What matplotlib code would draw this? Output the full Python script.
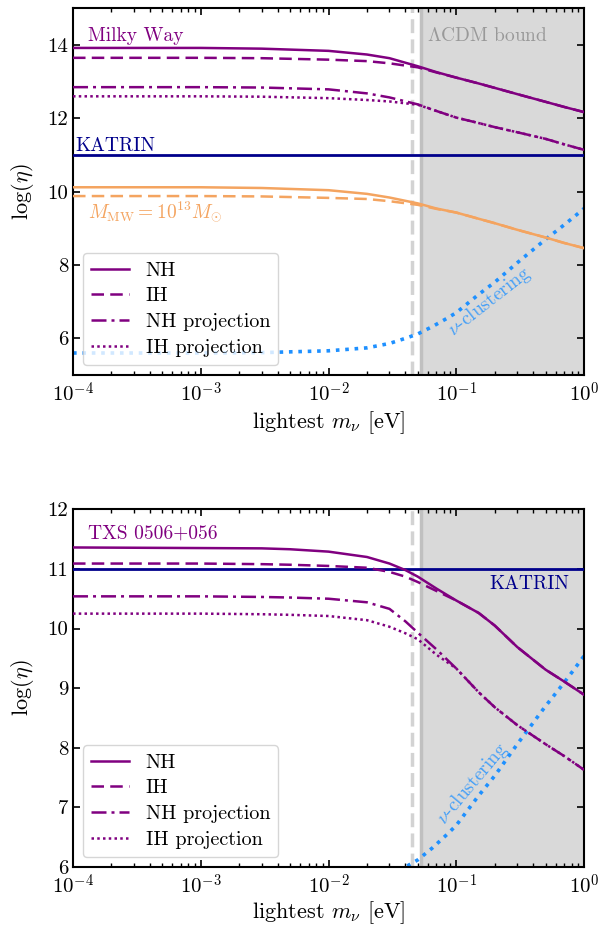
import numpy as np
import matplotlib.pyplot as plt
import matplotlib.ticker as ticker

plt.rcParams.update({
    'font.family': 'serif',
    'font.serif': ['cmr10', 'DejaVu Serif'],
    'mathtext.fontset': 'cm',
    'axes.unicode_minus': False,
    'axes.linewidth': 1.5,
    'xtick.direction': 'in',
    'ytick.direction': 'in',
    'xtick.top': True,
    'ytick.right': True,
    'xtick.major.size': 5,
    'ytick.major.size': 5,
    'xtick.minor.size': 3,
    'xtick.major.width': 1.2,
    'ytick.major.width': 1.2,
    'xtick.minor.width': 1.0,
    'xtick.labelsize': 15,
    'ytick.labelsize': 15,
    'axes.labelsize': 16,
    'legend.fontsize': 14.5,
})

# ---------------- data ----------------
# Milky Way panel
m_top = [1e-4, 1e-3, 3e-3, 0.01, 0.02, 0.03, 0.05, 0.07, 0.1, 0.15, 0.2, 0.3, 0.5, 0.7, 1.0]
nh_mw = [13.92, 13.92, 13.90, 13.84, 13.74, 13.64, 13.42, 13.26, 13.11, 12.95, 12.83, 12.66, 12.45, 12.31, 12.17]
ih_mw = [13.65, 13.65, 13.64, 13.60, 13.56, 13.50, 13.39, 13.25, 13.11, 12.95, 12.83, 12.66, 12.45, 12.31, 12.17]
nhp_mw = [12.85, 12.85, 12.84, 12.79, 12.68, 12.57, 12.38, 12.20, 12.02, 11.87, 11.76, 11.62, 11.44, 11.29, 11.14]
ihp_mw = [12.60, 12.60, 12.59, 12.55, 12.50, 12.46, 12.37, 12.20, 12.02, 11.87, 11.76, 11.62, 11.44, 11.29, 11.14]
nh_1e13 = [10.12, 10.12, 10.10, 10.04, 9.94, 9.84, 9.68, 9.54, 9.43, 9.26, 9.14, 8.96, 8.75, 8.60, 8.46]
ih_1e13 = [9.88, 9.88, 9.87, 9.83, 9.80, 9.74, 9.64, 9.53, 9.43, 9.26, 9.14, 8.96, 8.75, 8.60, 8.46]

# TXS 0506+056 panel
m_bot = [1e-4, 1e-3, 3e-3, 0.005, 0.01, 0.02, 0.03, 0.04, 0.05, 0.07, 0.1, 0.15, 0.2, 0.3, 0.5, 0.7, 1.0]
nh_txs = [11.36, 11.35, 11.345, 11.33, 11.29, 11.20, 11.09, 10.98, 10.87, 10.67, 10.47, 10.26, 10.05, 9.69, 9.31, 9.11, 8.89]
ih_txs = [11.09, 11.09, 11.08, 11.07, 11.05, 11.02, 10.95, 10.87, 10.78, 10.63, 10.47, 10.26, 10.05, 9.69, 9.31, 9.11, 8.89]
nhp_txs = [10.54, 10.54, 10.53, 10.52, 10.50, 10.44, 10.33, 10.12, 9.93, 9.65, 9.33, 8.93, 8.68, 8.38, 8.06, 7.86, 7.63]
ihp_txs = [10.25, 10.25, 10.24, 10.23, 10.21, 10.14, 10.03, 9.92, 9.82, 9.56, 9.33, 8.93, 8.68, 8.38, 8.06, 7.86, 7.63]

# neutrino clustering (same curve in both panels)
m_clust = [1e-4, 1e-3, 3e-3, 0.01, 0.02, 0.03, 0.04, 0.05, 0.065, 0.085, 0.1, 0.15, 0.2, 0.3, 0.4, 0.5, 0.63, 0.8, 1.0]
eta_clust = [5.60, 5.60, 5.61, 5.66, 5.74, 5.86, 6.00, 6.12, 6.32, 6.55, 6.70, 7.20, 7.53, 8.06, 8.42, 8.70, 8.97, 9.26, 9.54]

katrin = 11.0
lcdm_bound = 0.0528
lcdm_dashed = 0.0448

purple = '#800080'
orange = '#f4a460'
navy = '#00008b'
blue = '#1e90ff'

fig = plt.figure(figsize=(6, 9.25), dpi=100)
ax1 = fig.add_axes([0.1217, 0.5946, 0.8517, 0.3964])
ax2 = fig.add_axes([0.1217, 0.0627, 0.8517, 0.3867])


def common(ax, ylim, yticks, xpad):
    ax.axvspan(lcdm_bound, 1.0, color='#d9d9d9', lw=0, zorder=0)
    ax.axvline(lcdm_bound, color='#c0c0c0', lw=2.5, zorder=1)
    ax.axvline(lcdm_dashed, color='#d3d3d3', lw=2.5, ls=(0, (4, 1.8)), zorder=1)
    ax.axhline(katrin, color=navy, lw=2, zorder=3)
    ax.plot(m_clust, eta_clust, color=blue, lw=2.6, ls=(0, (1, 1.6)), zorder=2)
    ax.set_xscale('log')
    ax.set_xlim(1e-4, 1)
    ax.set_ylim(*ylim)
    ax.set_yticks(yticks)
    ax.xaxis.set_major_formatter(ticker.FuncFormatter(lambda v, p: r'$10^{%d}$' % round(np.log10(v))))
    ax.xaxis.set_minor_locator(ticker.LogLocator(base=10, subs=np.arange(2, 10), numticks=20))
    ax.xaxis.set_minor_formatter(ticker.NullFormatter())
    ax.tick_params(axis='x', which='major', pad=5)
    ax.set_xlabel(r'lightest $m_\nu$ [eV]', labelpad=xpad)
    ax.set_ylabel(r'$\log(\eta)$', labelpad=8)


# ---- top: Milky Way ----
common(ax1, (5, 15), [6, 8, 10, 12, 14], 2.5)
ax1.plot(m_top, nh_1e13, color=orange, lw=1.8, zorder=4)
ax1.plot(m_top, ih_1e13, color=orange, lw=1.8, ls=(0, (5, 2.5)), zorder=4)
ax1.plot(m_top, nh_mw, color=purple, lw=1.8, zorder=4, label='NH')
ax1.plot(m_top, ih_mw, color=purple, lw=1.8, ls=(0, (5, 2.5)), zorder=4, label='IH')
ax1.plot(m_top, nhp_mw, color=purple, lw=1.8, ls=(0, (6, 2, 1.2, 2)), zorder=4, label='NH projection')
ax1.plot(m_top, ihp_mw, color=purple, lw=1.8, ls=(0, (1, 1.3)), zorder=4, label='IH projection')

ax1.text(1.3e-4, 14.1, 'Milky Way', color=purple, fontsize=14, va='baseline')
ax1.text(0.059, 14.1, r'$\Lambda$CDM bound', color='#999999', fontsize=14, va='baseline')
ax1.text(1.05e-4, 11.1, 'KATRIN', color=navy, fontsize=14, va='baseline')
ax1.text(1.3e-4, 9.45, r'$M_{\rm MW}=10^{13}M_{\odot}$', color=orange, fontsize=14, va='center')
ax1.text(0.183, 7.0, r'$\nu$-clustering', color=blue, alpha=0.8, fontsize=14,
         rotation=38, ha='center', va='center', rotation_mode='anchor')
ax1.legend(loc='lower left', frameon=True, handlelength=1.9, borderpad=0.4, labelspacing=0.38)

# ---- bottom: TXS 0506+056 ----
common(ax2, (6, 12), [6, 7, 8, 9, 10, 11, 12], 0.5)
ax2.plot(m_bot, nh_txs, color=purple, lw=1.8, zorder=4, label='NH')
ax2.plot(m_bot, ih_txs, color=purple, lw=1.8, ls=(0, (5, 2.5)), zorder=4, label='IH')
ax2.plot(m_bot, nhp_txs, color=purple, lw=1.8, ls=(0, (6, 2, 1.2, 2)), zorder=4, label='NH projection')
ax2.plot(m_bot, ihp_txs, color=purple, lw=1.8, ls=(0, (1, 1.3)), zorder=4, label='IH projection')

ax2.text(1.3e-4, 11.6, 'TXS 0506+056', color=purple, fontsize=14, va='center')
ax2.text(0.765, 10.75, 'KATRIN', color=navy, fontsize=14, ha='right', va='center')
ax2.text(0.134, 7.39, r'$\nu$-clustering', color=blue, alpha=0.8, fontsize=14,
         rotation=50, ha='center', va='center', rotation_mode='anchor')
ax2.legend(loc='lower left', frameon=True, handlelength=1.9, borderpad=0.4, labelspacing=0.38)

fig.savefig('out.png', dpi=100)
